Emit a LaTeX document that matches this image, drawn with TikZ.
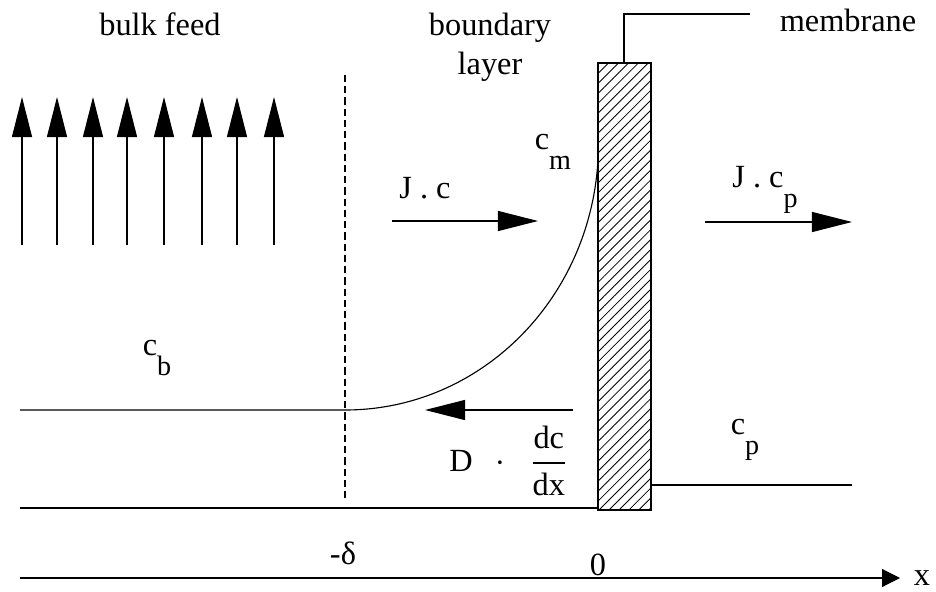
\documentclass[tikz,border=0pt]{standalone}
\usepackage{amsmath}
\usepackage{fontspec}
\setmainfont{Liberation Serif}
\usetikzlibrary{arrows.meta, patterns.meta}

% lowered subscript as printed in the figure
\newcommand{\csub}[1]{c\raisebox{-0.6em}{\fontsize{20}{24}\selectfont #1}}

\begin{document}
\begin{tikzpicture}[
    x=0.025cm, y=-0.025cm,
    every node/.style={font=\fontsize{23}{28}\selectfont},
    line width=0.8pt,
    >={Triangle[length=1cm, width=0.5cm]},
]
\useasboundingbox (0,0) rectangle (936,592);

% === Bulk feed ===
\node (bulk) at (160,24) {bulk feed};
\foreach \x in {22,57,93,127,164,202,237,274}
    \draw[->] (\x,245) -- (\x,97);
\node (cb) at (157,358) {\csub{b}};

% === Boundary layer ===
\node[align=center] (layer) at (490,47) {boundary\\layer};
\draw[dashed, dash pattern=on 5pt off 3pt] (345,75) -- (345,502);
\node (delta) at (343,553) {-δ};

% Concentration profile
\draw (20,410) -- (345,410) .. controls (480,410) and (590,300) .. (598,160);
\node (cm) at (553,152) {\csub{m}};

% Convective flux
\coordinate (jc-s) at (392,221);
\coordinate (jc-e) at (538,221);
\draw[->] (jc-s) -- (jc-e);
\node (jc) at (425,188) {J . c};

% Back diffusion
\coordinate (dif-s) at (573,410);
\coordinate (dif-e) at (425,410);
\draw[->] (dif-s) -- (dif-e);
\node (dif) at (508,461) {D\hspace{0.7em}$\cdot$\hspace{0.8em}$\dfrac{\mbox{dc}}{\mbox{dx}}$};

% === Membrane ===
\draw[pattern={Lines[angle=45, distance=5pt, line width=0.6pt]}]
    (598,63) rectangle (651,510);
\draw (624,63) -- (624,14) -- (750,14);
\node (mem) at (848,20) {membrane};
\node (zero) at (598,565) {0};

% === Permeate side ===
\coordinate (jp-s) at (705,222);
\coordinate (jp-e) at (852,222);
\draw[->] (jp-s) -- (jp-e);
\node (jcp) at (765,190) {J . \csub{p}};
\node (cp) at (745,440) {\csub{p}};
\draw (651,485) -- (852,485);

% === Base line and x axis ===
\draw (20,508) -- (598,508);
\draw[-{Triangle[length=0.45cm, width=0.45cm]}] (20,578) -- (900,578);
\node (xlab) at (922,578) {x};

\end{tikzpicture}
\end{document}
